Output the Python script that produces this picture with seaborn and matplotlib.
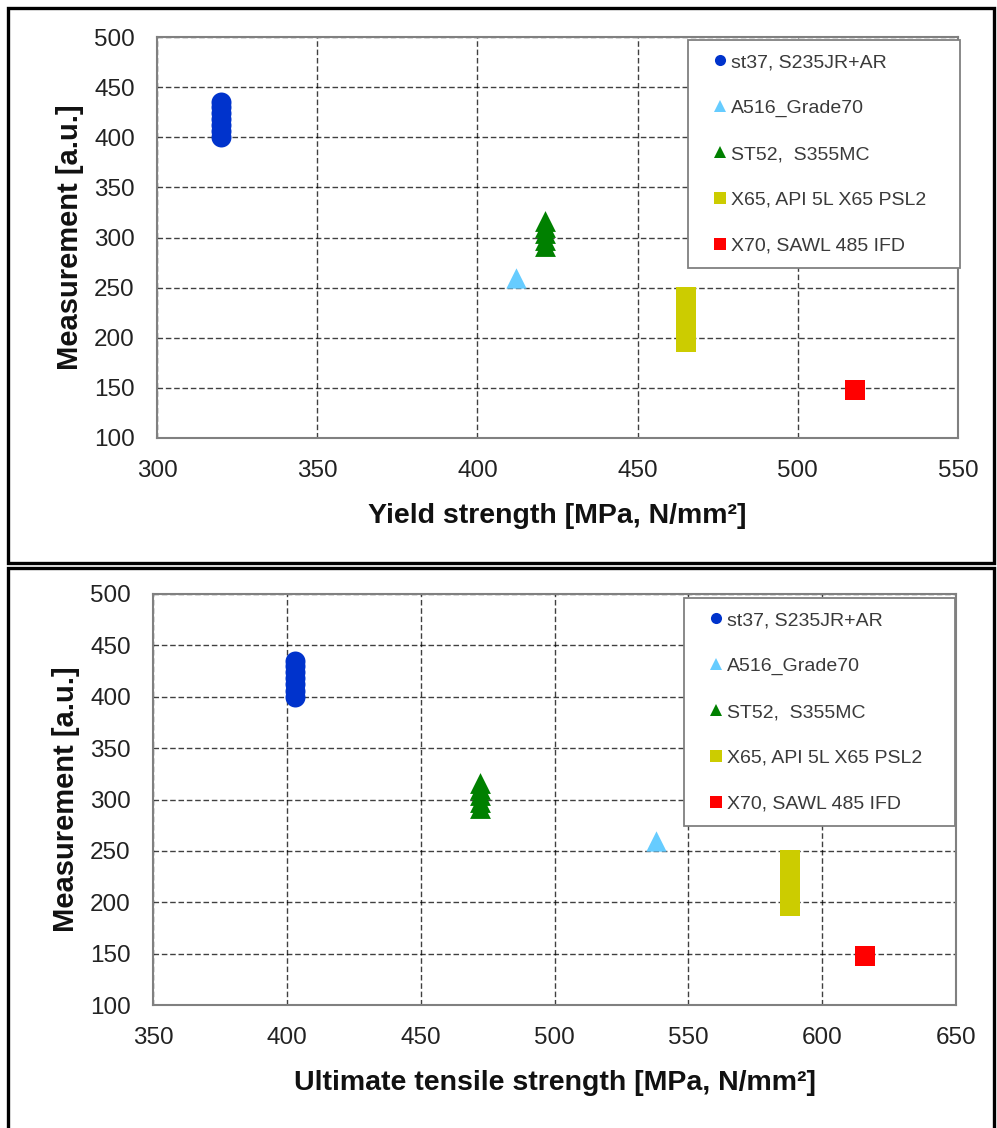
import matplotlib
matplotlib.use("Agg")
import matplotlib.pyplot as plt
from matplotlib.lines import Line2D
from matplotlib.patches import Rectangle
import pandas as pd
import seaborn as sns

# Steel grades and their tensile properties
grades = ["st37, S235JR+AR", "A516_Grade70", "ST52,  S355MC",
          "X65, API 5L X65 PSL2", "X70, SAWL 485 IFD"]
yield_strength = [320, 412, 421, 465, 518]
tensile_strength = [403, 538, 472, 588, 616]
measurements = [
    [400, 406, 412, 418, 424, 430, 435],
    [260],
    [292, 298, 304, 310, 316],
    [196, 205, 214, 223, 232, 241],
    [148],
]

colors = ["#0033CC", "#66CCFF", "#008000", "#CCCC00", "#FF0000"]
markers = ["o", "^", "^", "s", "s"]
sizes = [207, 215, 225, 207, 215]

x_ticks_top = [300, 350, 400, 450, 500, 550]
x_ticks_bottom = [350, 400, 450, 500, 550, 600, 650]
y_ticks = [100, 150, 200, 250, 300, 350, 400, 450, 500]

rows = []
for g, ys, ut, ms in zip(grades, yield_strength, tensile_strength, measurements):
    for m in ms:
        rows.append({"grade": g, "yield": ys, "uts": ut, "measurement": m})
df = pd.DataFrame(rows)

sns.set_theme(style="white")
plt.rcParams["font.family"] = ["Liberation Sans", "DejaVu Sans"]

W, H = 997, 1128
fig = plt.figure(figsize=(W / 100, H / 100), dpi=100)


def frac(x0, y0, x1, y1):
    return [x0 / W, 1 - y1 / H, (x1 - x0) / W, (y1 - y0) / H]


def draw_panel(ax, xcol, xticks, xlabel, legend_box):
    for g, c, mk, s in zip(grades, colors, markers, sizes):
        sub = df[df["grade"] == g]
        sns.scatterplot(data=sub, x=xcol, y="measurement", marker=mk, s=s,
                        color=c, linewidth=0, ax=ax, legend=False, zorder=3)
    ax.set_xlim(xticks[0], xticks[-1])
    ax.set_ylim(100, 500)
    ax.set_xticks(xticks)
    ax.set_yticks(y_ticks)
    ax.grid(True, color="black", linestyle=(0, (4, 2)), linewidth=1.0, alpha=0.75)
    ax.set_axisbelow(True)
    for sp in ax.spines.values():
        sp.set_color("#808080")
        sp.set_linewidth(1.5)
    ax.tick_params(axis="both", labelsize=17.5, colors="#222222", length=0, pad=16)
    ax.set_xlabel(xlabel, fontsize=20.5, fontweight="bold", color="#111111", labelpad=15)
    ax.set_ylabel("Measurement [a.u.]", fontsize=21, fontweight="bold",
                  color="#111111", labelpad=7)

    handles = [Line2D([0], [0], marker=mk, color="none", markerfacecolor=c,
                      markeredgewidth=0, markersize=8.5 if mk == "^" else 8)
               for c, mk in zip(colors, markers)]
    x0, y0, x1, y1 = legend_box
    leg = fig.legend(handles, grades, loc="upper left", mode="expand",
                     bbox_to_anchor=(x0 / W, 1 - y1 / H, (x1 - x0) / W, (y1 - y0) / H),
                     bbox_transform=fig.transFigure,
                     fontsize=14, frameon=True, fancybox=False, framealpha=1,
                     edgecolor="#808080", labelspacing=1.45, handlelength=1.9,
                     handletextpad=-0.4, borderpad=0.7, borderaxespad=0,
                     labelcolor="#3a3a3a")
    leg.get_frame().set_linewidth(1.3)
    leg.set_zorder(10)


ax1 = fig.add_axes(frac(157, 37, 958, 438))
draw_panel(ax1, "yield", x_ticks_top, "Yield strength [MPa, N/mm²]", (688, 40, 960, 260))

ax2 = fig.add_axes(frac(153, 594, 956, 1005))
draw_panel(ax2, "uts", x_ticks_bottom, "Ultimate tensile strength [MPa, N/mm²]",
           (684, 598, 955, 822))

# Outer frames around each panel
for (x0, y0, x1, y1) in [(8, 8, 994, 563), (8, 568, 994, 1140)]:
    fig.patches.append(Rectangle((x0 / W, 1 - y1 / H), (x1 - x0) / W, (y1 - y0) / H,
                                 transform=fig.transFigure, fill=False,
                                 edgecolor="black", linewidth=2.4))

fig.savefig("out.png", dpi=100)
